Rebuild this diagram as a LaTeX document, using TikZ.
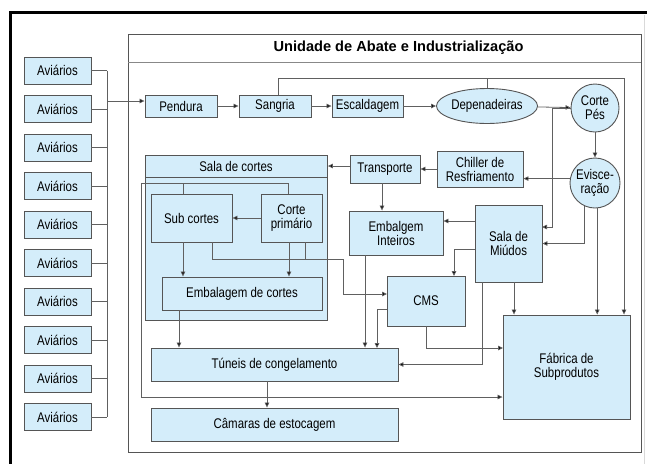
\documentclass[tikz,border=0pt]{standalone}
\usepackage{fontspec}
\setmainfont{Liberation Sans}[FakeStretch=0.82]
\newfontfamily\titlefont{Liberation Sans}
\usetikzlibrary{calc,shapes.geometric,arrows.meta}
\definecolor{boxfill}{HTML}{D4EDFA}
\definecolor{boxline}{HTML}{555555}
\definecolor{conn}{HTML}{606060}
\begin{document}
\begin{tikzpicture}[x=1pt,y=-1pt,
  box/.style={draw=boxline,fill=boxfill,line width=0.9pt,inner sep=1pt,align=center,
    font=\fontsize{14}{14}\selectfont},
  ell/.style={box,ellipse,inner sep=0pt},
  circ/.style={box,circle,inner sep=0pt},
  ln/.style={draw=conn,line width=0.8pt},
  arr/.style={ln,-{Triangle[length=5pt,width=4.5pt,fill=black]}}]
\useasboundingbox (0,0) rectangle (647,464);
% outer frame
\draw[line width=3pt,black] (647,12.5) -- (10.5,12.5) -- (10.5,464);
\draw[line width=1pt,black!15] (644.5,15) -- (644.5,464);
% Unidade box
\draw[draw=boxline,line width=0.9pt] (128,34) rectangle (641,452);
\draw[draw=boxline!70,line width=0.8pt] (128,62) -- (641,62);
\node[font=\titlefont\bfseries\fontsize{14.6}{15}\selectfont] (title) at (398.5,48) {Unidade de Abate e Industrialização};
% Aviários
\foreach \i in {0,...,9}{
  \node[box,minimum width=67pt,minimum height=27pt] (av\i) at (57.5,{70.5+38.5*\i}) {Aviários};
  \draw[ln] (av\i.east) -- (av\i.east -| 107,0);
}
\coordinate (busT) at (107,70.5);
\coordinate (busB) at (107,417);
\draw[ln] (busT) -- (busB);
% top row
\node[box,minimum width=72pt,minimum height=22pt] (pend) at (181,106) {Pendura};
\node[box,minimum width=72pt,minimum height=22pt] (sang) at (275,106) {Sangria};
\node[box,minimum width=71pt,minimum height=22pt] (esca) at (367.5,106) {Escaldagem};
\node[ell,minimum width=98pt,minimum height=35pt] (depe) at (487,106) {Depenadeiras};
\node[circ,minimum size=48pt] (cpes) at (595,108) {Corte\\Pés};
\node[circ,minimum size=50pt] (evis) at (595,183) {Evisce-\\ração};
\coordinate (busP) at (107,101);
\draw[arr] (busP) -- (busP -| pend.west);
\draw[arr] (pend) -- (sang);
\draw[arr] (sang) -- (esca);
\draw[arr] (esca) -- (depe);
\draw[arr] (depe) -- (cpes);
\draw[arr] (cpes) -- (evis);
% second row
\node[box,minimum width=86pt,minimum height=36pt] (chil) at (480,169) {Chiller de\\Resfriamento};
\node[box,minimum width=70pt,minimum height=28pt] (tran) at (385,169) {Transporte};
\node[box,minimum width=182pt,minimum height=165pt,anchor=north west] (salc) at (145,155) {};
\coordinate (shl) at (145,177);
\coordinate (shr) at (327,177);
\draw[draw=boxline,line width=0.8pt] (shl) -- (shr);
\node[font=\fontsize{14}{14}\selectfont] (salct) at (236,166) {Sala de cortes};
\node[box,minimum width=81pt,minimum height=48pt] (subc) at (191.5,218) {Sub cortes};
\node[box,minimum width=61pt,minimum height=48pt] (cprim) at (291.5,218) {Corte\\primário};
\node[box,minimum width=160pt,minimum height=33pt] (embc) at (242,293.5) {Embalagem de cortes};
\node[box,minimum width=94pt,minimum height=44pt] (embi) at (396,233) {Embalgem\\Inteiros};
\node[box,minimum width=67pt,minimum height=77pt] (miud) at (508.5,243.5) {Sala de\\Miúdos};
\node[box,minimum width=78pt,minimum height=50pt] (cms) at (426,301) {CMS};
\node[box,minimum width=127pt,minimum height=104pt] (fab) at (566.5,367) {Fábrica de\\Subprodutos};
\node[box,minimum width=247pt,minimum height=33pt] (tun) at (274.5,364.5) {Túneis de congelamento};
\node[box,minimum width=247pt,minimum height=33pt] (cam) at (274.5,424.5) {Câmaras de estocagem};
% helper coordinates
\coordinate (sangT) at (278,95);
\coordinate (tl) at (278,78);
\coordinate (tr) at (624,78);
\coordinate (cpl) at (552,108);
\coordinate (miudE1) at (542,227);
\coordinate (tranW) at (350,166);
\coordinate (tranS) at (382,183);
\coordinate (miudW1) at (475,221);
\coordinate (miudW2) at (475,249);
\coordinate (cmsN) at (454,276);
\coordinate (miudS1) at (514,282);
\coordinate (miudS2) at (482,282);
\coordinate (fabW1) at (503,348);
\coordinate (cmsW) at (387,309);
\coordinate (tunN1) at (377,348);
\coordinate (embiS) at (365,255);
\coordinate (subcS1) at (183,242);
\coordinate (cprimS1) at (289,242);
\coordinate (subcS2) at (212,242);
\coordinate (cprimS2) at (305,242);
\coordinate (sl1) at (343,259);
\coordinate (cmsW2) at (387,294);
\coordinate (cprimN) at (288,194);
\coordinate (subcN) at (183,194);
\coordinate (ll1) at (141,183);
\coordinate (ll2) at (141,397);
\coordinate (embcS) at (179,310);
\coordinate (tunS) at (267,381);
% top loop from Sangria / Depenadeiras to Fabrica
\draw[arr] (sangT) -- (tl) -- (tr) -- (tr |- fab.north);
\draw[ln] (depe.north) -- (depe.north |- tl);
% Evisceracao to chiller, chain to Sala de cortes
\draw[arr] (evis.170) -- (evis.170 -| chil.east);
\draw[arr] (chil.west) -- (chil.west -| tran.east);
\draw[arr] (tranW) -- (tranW -| salc.east);
\draw[arr] (tranS) -- (tranS |- embi.north);
% Corte Pes / Evisceracao to Miudos and Fabrica
\draw[arr] (cpes.west) -- (cpl) |- (miudE1);
\draw[arr] (evis.246) |- (miud.east);
\draw[arr] (evis.275) -- (evis.275 |- fab.north);
% Miudos outputs
\draw[arr] (miudW1) -- (miudW1 -| embi.east);
\draw[arr] (miudW2) -| (cmsN);
\draw[arr] (miudS1) -- (miudS1 |- fab.north);
\draw[arr] (miudS2) |- (tun.east);
% CMS outputs
\draw[arr] (cms.south) |- (fabW1);
\draw[arr] (cmsW) -| (tunN1);
\draw[arr] (embiS) -- (embiS |- tun.north);
% Sala de cortes internals
\draw[arr] (cprim.west) -- (subc.east);
\draw[arr] (subcS1) -- (subcS1 |- embc.north);
\draw[arr] (cprimS1) -- (cprimS1 |- embc.north);
\draw[arr] (subcS2) |- (sl1) |- (cmsW2);
\draw[ln] (cprimS2) -- (cprimS2 |- sl1);
\draw[arr] (cprimN) |- (ll1) -- (ll2) -- (ll2 -| fab.west);
\draw[ln] (subcN) -- (subcN |- ll1);
\draw[arr] (embcS) -- (embcS |- tun.north);
\draw[arr] (tunS) -- (tunS |- cam.north);
\end{tikzpicture}
\end{document}
